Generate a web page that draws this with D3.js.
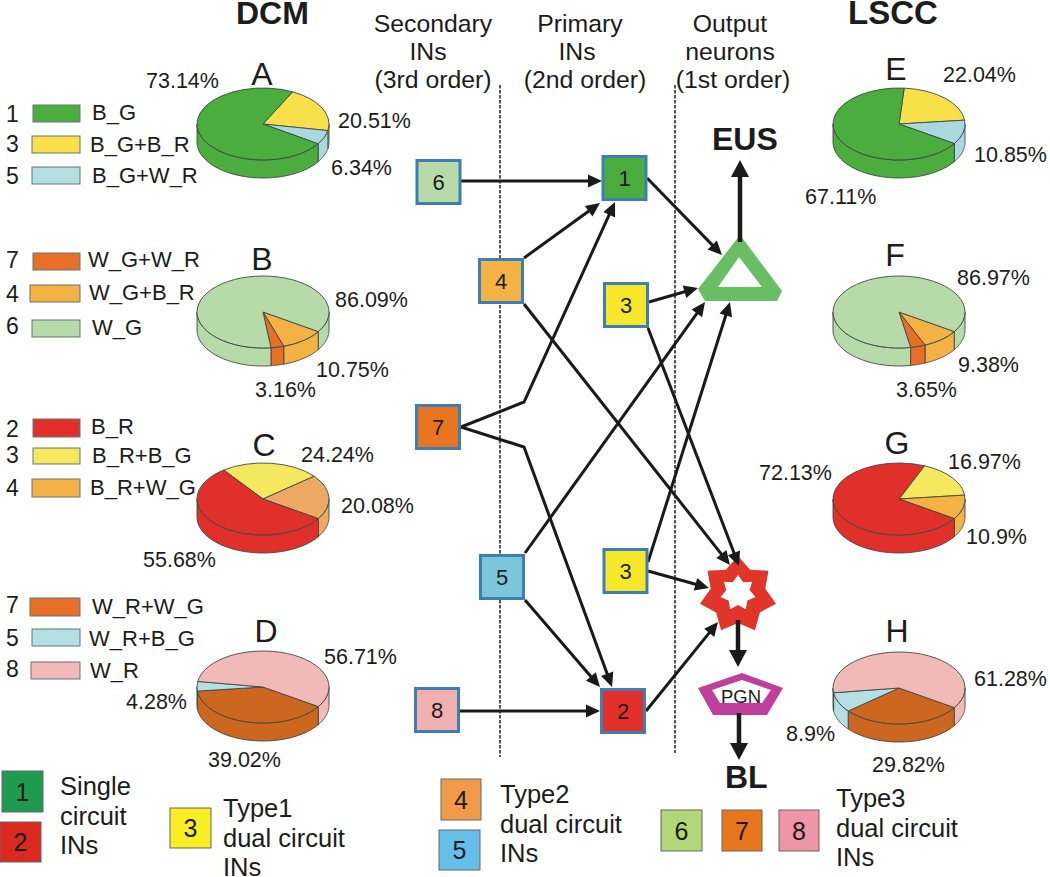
<!DOCTYPE html>
<html>
<head>
<meta charset="utf-8">
<script src="https://cdn.jsdelivr.net/npm/d3@7"></script>
<style>
    html, body { margin: 0; padding: 0; background: #fff; }
    svg { display: block; }
    text { font-family: "Liberation Sans", Arial, sans-serif; fill: #1c1c1c; }
</style>
</head>
<body>
<div id="chart"></div>
<script>
// values, clockwise from each pie's first slice
const valuesA = [20.51, 6.34, 73.14];
const valuesB = [10.75, 3.16, 86.09];
const valuesC = [24.24, 20.08, 55.68];
const valuesD = [39.02, 4.28, 56.71];
const valuesE = [22.04, 10.85, 67.11];
const valuesF = [9.38, 3.65, 86.97];
const valuesG = [16.97, 10.9, 72.13];
const valuesH = [29.82, 8.9, 61.28];

const legendNumbersA = ["1", "3", "5"];
const legendLabelsA = ["B_G", "B_G+B_R", "B_G+W_R"];
const legendNumbersB = ["7", "4", "6"];
const legendLabelsB = ["W_G+W_R", "W_G+B_R", "W_G"];
const legendNumbersC = ["2", "3", "4"];
const legendLabelsC = ["B_R", "B_R+B_G", "B_R+W_G"];
const legendNumbersD = ["7", "5", "8"];
const legendLabelsD = ["W_R+W_G", "W_R+B_G", "W_R"];

const headerSecondary = ["Secondary", "INs", "(3rd order)"];
const headerPrimary = ["Primary", "INs", "(2nd order)"];
const headerOutput = ["Output", "neurons", "(1st order)"];
const keySingle = ["Single", "circuit", "INs"];
const keyType1 = ["Type1", "dual circuit", "INs"];
const keyType2 = ["Type2", "dual circuit", "INs"];
const keyType3 = ["Type3", "dual circuit", "INs"];

// ---- layout and styling below ----
const width = 1050;
const height = 877;
const rx = 66;
const ry = 36;
const depth = 18;
const deg = Math.PI / 180;

const c = {
    green: "#4cad3f", yellow: "#f7e04a", blue: "#aad8de",
    lightGreen: "#b6dba9", orange: "#f2b244", darkOrange: "#e76f28",
    red: "#e1302a", paleYellow: "#f4e85f", peach: "#eda963",
    pink: "#f2b9b9", brown: "#cd661f", paleBlue: "#b5e0e3"
};

const pies = [
    { letter: "A", lx: 262, ly: 85, cx: 263, cy: 124, start: 26.7, values: valuesA, colors: [c.yellow, c.blue, c.green],
      pos: [[338, 128], [331, 175], [146, 88]] },
    { letter: "B", lx: 262, ly: 270, cx: 263, cy: 312, start: 123, values: valuesB, colors: [c.orange, c.darkOrange, c.lightGreen],
      pos: [[316, 377], [255, 397], [335, 307]] },
    { letter: "C", lx: 264, ly: 456, cx: 263, cy: 499, start: 323.5, values: valuesC, colors: [c.paleYellow, c.peach, c.red],
      pos: [[301, 462], [341, 513], [143, 567]] },
    { letter: "D", lx: 266, ly: 642, cx: 263, cy: 687, start: 123, values: valuesD, colors: [c.brown, c.paleBlue, c.pink],
      pos: [[208, 767], [126, 709], [324, 664]] },
    { letter: "E", lx: 896, ly: 80, cx: 899, cy: 124, start: 4.5, values: valuesE, colors: [c.yellow, c.blue, c.green],
      pos: [[943, 82], [974, 162], [805, 204]] },
    { letter: "F", lx: 895, ly: 266, cx: 899, cy: 312, start: 123, values: valuesF, colors: [c.orange, c.darkOrange, c.lightGreen],
      pos: [[958, 372], [896, 397], [957, 285]] },
    { letter: "G", lx: 897, ly: 454, cx: 899, cy: 499, start: 22.7, values: valuesG, colors: [c.paleYellow, c.orange, c.red],
      pos: [[948, 469], [966, 544], [759, 480]] },
    { letter: "H", lx: 897, ly: 642, cx: 899, cy: 688, start: 123, values: valuesH, colors: [c.brown, c.paleBlue, c.pink],
      pos: [[872, 772], [786, 741], [974, 686]] }
];

const legends = [
    { numbers: legendNumbersA, labels: legendLabelsA, colors: [c.green, c.yellow, c.paleBlue],
      rows: [[33, 105, 47, 17, 92, 120, 122], [32, 136, 48, 17, 90, 152, 152], [32, 167, 48, 17, 92, 183, 184]] },
    { numbers: legendNumbersB, labels: legendLabelsB, colors: [c.darkOrange, c.orange, c.lightGreen],
      rows: [[33, 253, 47, 17, 88, 267, 268], [30, 285, 50, 17, 89, 300, 302], [32, 320, 48, 17, 92, 335, 334]] },
    { numbers: legendNumbersC, labels: legendLabelsC, colors: [c.red, c.paleYellow, c.orange],
      rows: [[33, 419, 47, 18, 91, 434, 437], [33, 448, 47, 16, 92, 463, 463], [32, 479, 48, 18, 90, 495, 496]] },
    { numbers: legendNumbersD, labels: legendLabelsD, colors: [c.darkOrange, c.paleBlue, c.pink],
      rows: [[30, 598, 50, 18, 92, 614, 613], [32, 629, 48, 17, 89, 646, 646], [31, 662, 49, 17, 90, 678, 677]] }
];

const nodes = {
    n6: { label: "6", x: 438.5, y: 182, fill: c.lightGreen },
    n1: { label: "1", x: 624.5, y: 178, fill: c.green },
    n4: { label: "4", x: 501, y: 281, fill: c.orange },
    n3a: { label: "3", x: 626, y: 305, fill: "#f7e72a" },
    n7: { label: "7", x: 438, y: 427, fill: "#e8741f" },
    n5: { label: "5", x: 502, y: 577, fill: "#7cc6dc" },
    n3b: { label: "3", x: 625.5, y: 571, fill: "#f7e72a" },
    n8: { label: "8", x: 437, y: 710, fill: "#f0b0b0" },
    n2: { label: "2", x: 623, y: 711, fill: c.red }
};

const arrows = [
    [[461, 181], [602, 181]],
    [[647, 178], [722, 255]],
    [[524, 258], [600, 203]],
    [[461, 427], [524, 402], [615, 202]],
    [[461, 427], [524, 447], [612, 687]],
    [[524, 304], [730, 565]],
    [[649, 302], [698, 288]],
    [[648, 328], [739, 566]],
    [[525, 553], [705, 302]],
    [[648, 562], [730, 302]],
    [[648, 571], [709, 588]],
    [[525, 600], [600, 687]],
    [[460, 711], [600, 711]],
    [[646, 711], [718, 622]]
];

const bigArrows = [
    [[740, 242], [740, 160]],
    [[738, 620], [738, 667]],
    [[739, 713], [739, 760]]
];

const triangleOuter = [[740, 235], [782, 291], [777, 301], [705, 301], [698, 289]];
const triangleInner = [[739, 257], [762, 287], [718, 287]];
const pentagonOuter = [[742, 673], [783, 688], [767, 715], [713, 715], [698, 688]];
const pentagonInner = [[742, 680], [771, 690], [762, 703], [720, 703], [712, 690]];

const keyBoxes = [
    { label: "1", x: 2, y: 771, w: 41, h: 41, fill: "#1e9b4f" },
    { label: "2", x: 0, y: 822, w: 41, h: 40, fill: "#da2a1f" },
    { label: "3", x: 170, y: 808, w: 41, h: 40, fill: "#f9ee24" },
    { label: "4", x: 441, y: 779, w: 40, h: 41, fill: "#f29a4a" },
    { label: "5", x: 439, y: 830, w: 41, h: 40, fill: "#66bfe8" },
    { label: "6", x: 661, y: 810, w: 41, h: 41, fill: "#b3d678" },
    { label: "7", x: 722, y: 810, w: 40, h: 41, fill: "#e8761c" },
    { label: "8", x: 779, y: 810, w: 40, h: 41, fill: "#ee95a6" }
];

const svg = d3.select("#chart")
    .append("svg")
    .attr("width", width)
    .attr("height", height)
    .attr("viewBox", `0 0 ${width} ${height}`);

function addText(x, y, str, size, anchor, weight) {
    return svg.append("text")
        .attr("x", x)
        .attr("y", y)
        .attr("font-size", size)
        .attr("text-anchor", anchor || "start")
        .attr("font-weight", weight || "normal")
        .text(str);
}

function addLines(lines, x, ys, size, anchor) {
    lines.forEach((str, i) => addText(x[i] === undefined ? x : x[i], ys[i], str, size, anchor));
}

// titles and column headers
addText(236, 24, "DCM", 32, "start", "bold");
addText(848, 24, "LSCC", 33, "start", "bold");
addText(712, 150, "EUS", 32, "start", "bold");
addText(725, 788, "BL", 32, "start", "bold");
addLines(headerSecondary, [433, 428, 433], [32, 60, 88], 24.8, "middle");
addLines(headerPrimary, [580, 577, 585], [32, 60, 88], 24.8, "middle");
addLines(headerOutput, [730, 730, 733], [32, 60, 88], 24.8, "middle");

// pies
const pieLayout = d3.pie().sort(null).value((d) => d);
const arc = d3.arc().innerRadius(0).outerRadius(rx);
const k = ry / rx;
const edge = d3.line();

function wallPath(a0, a1) {
    const steps = d3.range(0, 41).map((i) => a0 + (a1 - a0) * i / 40);
    const top = steps.map((a) => [rx * Math.sin(a), -ry * Math.cos(a)]);
    const bottom = steps.slice().reverse().map((a) => [rx * Math.sin(a), -ry * Math.cos(a) + depth]);
    return edge(top.concat(bottom)) + "Z";
}

pies.forEach((pie) => {
    const start = pie.start * deg;
    const slices = pieLayout.startAngle(start).endAngle(start + 2 * Math.PI)(pie.values);
    const g = svg.append("g").attr("transform", `translate(${pie.cx},${pie.cy})`);

    slices.forEach((s, i) => {
        [-2 * Math.PI, 0, 2 * Math.PI].forEach((shift) => {
            const a0 = Math.max(s.startAngle + shift, Math.PI / 2);
            const a1 = Math.min(s.endAngle + shift, 3 * Math.PI / 2);
            if (a1 > a0) {
                g.append("path")
                    .attr("d", wallPath(a0, a1))
                    .attr("fill", pie.colors[i])
                    .attr("stroke", "#3f4845")
                    .attr("stroke-width", 0.9);
            }
        });
    });

    g.append("g")
        .attr("transform", `scale(1,${k})`)
        .selectAll("path")
        .data(slices)
        .enter()
        .append("path")
        .attr("d", arc)
        .attr("fill", (d, i) => pie.colors[i])
        .attr("stroke", "#3f4845")
        .attr("stroke-width", 0.9)
        .attr("vector-effect", "non-scaling-stroke");

    addText(pie.lx, pie.ly, pie.letter, 32, "middle");
    pie.values.forEach((v, i) => addText(pie.pos[i][0], pie.pos[i][1], `${v}%`, 21.5));
});

// small legends beside the left pies
legends.forEach((lg) => {
    lg.rows.forEach((r, i) => {
        svg.append("rect")
            .attr("x", r[0])
            .attr("y", r[1])
            .attr("width", r[2])
            .attr("height", r[3])
            .attr("fill", lg.colors[i])
            .attr("stroke", "#6b7370")
            .attr("stroke-width", 1);
        addText(12.5, r[6], lg.numbers[i], 23, "middle");
        addText(r[4], r[5], lg.labels[i], 22);
    });
});

// dashed column separators
[[500, 85, 757], [675, 85, 753]].forEach((d) => {
    svg.append("line")
        .attr("x1", d[0])
        .attr("x2", d[0])
        .attr("y1", d[1])
        .attr("y2", d[2])
        .attr("stroke", "#1c1c1c")
        .attr("stroke-width", 1.5)
        .attr("stroke-dasharray", "3.5 1.5");
});

// output neurons
function polygon(points) {
    return "M" + points.map((p) => p.join(",")).join("L") + "Z";
}

function starPoints(cx, cy, outer, inner) {
    return d3.range(0, 14).map((i) => {
        const a = i * Math.PI / 7;
        const r = i % 2 === 0 ? outer : inner;
        return [cx + r * Math.sin(a), cy - r * Math.cos(a)];
    });
}

svg.append("path")
    .attr("d", polygon(triangleOuter) + polygon(triangleInner))
    .attr("fill", "#69be63")
    .attr("fill-rule", "evenodd");

svg.append("path")
    .attr("d", polygon(starPoints(738, 595, 39, 28)) + polygon(starPoints(738, 593, 18, 12)))
    .attr("fill", "#e2352a")
    .attr("fill-rule", "evenodd");

svg.append("path")
    .attr("d", polygon(pentagonOuter) + polygon(pentagonInner))
    .attr("fill", "#bf3f9b")
    .attr("fill-rule", "evenodd");

addText(741, 703, "PGN", 18.5, "middle");

// arrows
const arrowLine = d3.line();

function drawArrow(points, strokeWidth, headLength, headWidth) {
    const n = points.length;
    const tip = points[n - 1];
    const prev = points[n - 2];
    const angle = Math.atan2(tip[1] - prev[1], tip[0] - prev[0]);
    const ux = Math.cos(angle);
    const uy = Math.sin(angle);
    const baseX = tip[0] - ux * headLength;
    const baseY = tip[1] - uy * headLength;
    const trimmed = points.slice(0, n - 1).concat([[baseX + ux * 2, baseY + uy * 2]]);

    svg.append("path")
        .attr("d", arrowLine(trimmed))
        .attr("fill", "none")
        .attr("stroke", "#1a1a1a")
        .attr("stroke-width", strokeWidth);

    svg.append("path")
        .attr("d", polygon([
            tip,
            [baseX - uy * headWidth / 2, baseY + ux * headWidth / 2],
            [baseX + uy * headWidth / 2, baseY - ux * headWidth / 2]
        ]))
        .attr("fill", "#1a1a1a");
}

arrows.forEach((a) => drawArrow(a, 3, 14, 13));
bigArrows.forEach((a) => drawArrow(a, 4.5, 17, 18));

// interneuron squares
Object.values(nodes).forEach((n) => {
    svg.append("rect")
        .attr("x", n.x - 21.5)
        .attr("y", n.y - 21.5)
        .attr("width", 43)
        .attr("height", 43)
        .attr("fill", n.fill)
        .attr("stroke", "#3d7fb5")
        .attr("stroke-width", 3);
    addText(n.x, n.y + 8, n.label, 22, "middle");
});

// key at the bottom
keyBoxes.forEach((b) => {
    svg.append("rect")
        .attr("x", b.x)
        .attr("y", b.y)
        .attr("width", b.w)
        .attr("height", b.h)
        .attr("fill", b.fill)
        .attr("stroke", "#666")
        .attr("stroke-width", 1);
    addText(b.x + b.w / 2, b.y + b.h / 2 + 9, b.label, 25, "middle");
});

addLines(keySingle, 60, [795, 825, 854], 25.5);
addLines(keyType1, 223, [817, 847, 876], 25.5);
addLines(keyType2, 500, [803, 833, 862], 25.5);
addLines(keyType3, 836, [807, 837, 866], 25.5);
</script>
</body>
</html>
